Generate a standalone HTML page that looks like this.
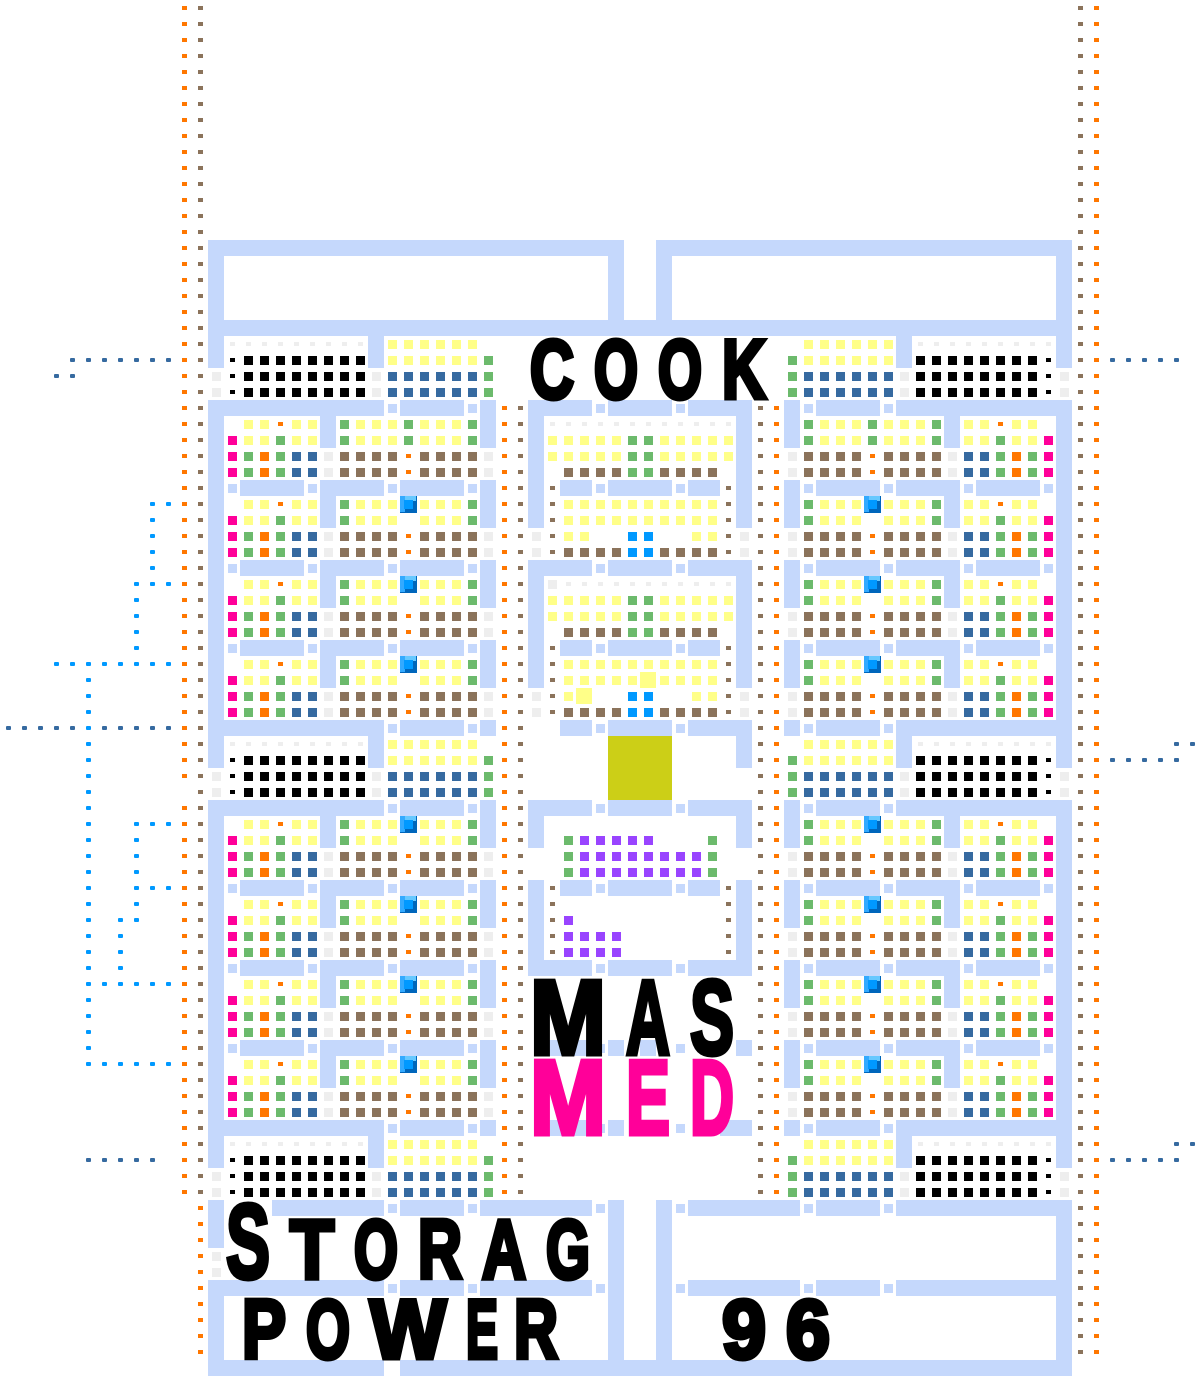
<!DOCTYPE html>
<html><head><meta charset="utf-8">
<style>
html,body{margin:0;padding:0;background:#fff;}
#s{position:absolute;left:0;top:0;display:block;}
</style></head>
<body>
<svg id="s" xmlns="http://www.w3.org/2000/svg" width="1201" height="1377" viewBox="0 0 1201 1377" shape-rendering="crispEdges">
<rect x="0" y="0" width="1201" height="1377" fill="#ffffff"/>
<g id="g"></g>
<g id="t" font-family="'Liberation Sans', sans-serif" font-weight="bold"></g>
</svg>
<script>
var NS="http://www.w3.org/2000/svg";
var G=document.getElementById('g'),T=document.getElementById('t');
function R(x,y,w,h,f,rx){var e=document.createElementNS(NS,'rect');e.setAttribute('x',x);e.setAttribute('y',y);e.setAttribute('width',w);e.setAttribute('height',h);e.setAttribute('fill',f);if(rx){e.setAttribute('rx',rx);}G.appendChild(e);}
var WC='#c5d8fc',Y='#ffff88',GR='#6cba6c',OR='#ff7700',BL='#366aa0',BR='#8b735b',MG='#ff0099',LG='#eeeeee',BK='#000000',B2='#0099ff',PU='#9944ff';
var m=false;function X(c){return m?79-c:c;}
function W(c1,r1,c2,r2){var a=X(c1),b=X(c2),lo=Math.min(a,b),hi=Math.max(a,b);R(16*lo,16*r1,16*(hi-lo+1),16*(r2-r1+1),WC);}
function I(c,r,f){R(16*X(c)+4,16*r+4,9,9,f);}
function S(c,r,f){R(16*X(c)+6,16*r+6,5,4,f);}
function D(c,r){I(c,r,WC);}
function Cube(c,r){var x=16*X(c),y=16*r;R(x,y,17,17,'#0066bb');R(x,y,16,5,'#66c8ff');R(x,y,5,16,'#33aaff');R(x+4,y+4,9,9,B2);}
function Dot(c,r,f){R(16*c+6,16*r+6,5,4,f,1.5);}
function row(c1,c2,r,f){for(var c=c1;c<=c2;c++)I(c,r,f);}

function module(r,full,cube){
 if(full){W(13,r,23,r);}else{D(14,r);W(15,r,18,r);D(19,r);W(20,r,23,r);}
 D(24,r);W(25,r,28,r);D(29,r);W(30,r,30,r+2);W(20,r,20,r+2);
 for(var k=1;k<=2;k++){var rr=r+k;
  I(15,rr,Y);I(16,rr,Y);if(k==1)S(17,rr,OR);else I(17,rr,GR);I(18,rr,Y);I(19,rr,Y);
  I(21,rr,GR);row(22,24,rr,Y);
  if(k==1){if(cube)Cube(25,rr);else I(25,rr,GR);}else{if(!cube)I(25,rr,GR);}
  row(26,28,rr,Y);I(29,rr,GR);
  if(k==2)I(14,rr,MG);
 }
 for(var k=3;k<=4;k++){var rr=r+k;
  I(14,rr,MG);I(15,rr,GR);I(16,rr,OR);I(17,rr,GR);I(18,rr,BL);I(19,rr,BL);I(20,rr,LG);
  row(21,24,rr,BR);S(25,rr,OR);row(26,29,rr,BR);I(30,rr,LG);
 }
}
function storage(s,topwall){
 if(topwall){W(13,s-1,23,s-1);D(24,s-1);W(25,s-1,28,s-1);D(29,s-1);W(30,s-1,30,s-1);}
 W(13,s-1,13,s+1);W(23,s-1,23,s+1);I(13,s+2,LG);I(13,s+3,LG);I(23,s+2,LG);I(23,s+3,LG);
 for(var c=14;c<=22;c++)S(c,s,LG);row(24,29,s,Y);
 S(14,s+1,BK);row(15,22,s+1,BK);row(24,29,s+1,Y);I(30,s+1,GR);
 for(var k=2;k<=3;k++){S(14,s+k,BK);row(15,22,s+k,BK);row(24,29,s+k,BL);I(30,s+k,GR);}
}
function side(){
 W(13,25,13,47);W(13,50,13,72);
 storage(21,false);
 module(25,true,false);module(30,false,true);module(35,false,true);module(40,false,true);
 storage(46,true);
 module(50,true,true);module(55,false,true);module(60,false,true);module(65,false,true);
 storage(71,true);
}
W(13,15,38,15);W(13,15,13,22);W(38,15,38,20);W(41,15,66,15);W(41,15,41,20);W(66,15,66,22);W(13,20,66,20);
m=false;side();m=true;side();m=false;

for(var r=0;r<=74;r++){if(r!=49)S(11,r,OR);S(12,r,BR);}
for(var r=75;r<=84;r++)S(12,r,OR);
for(var r=0;r<=84;r++){S(67,r,BR);S(68,r,OR);}
for(var r=25;r<=74;r++){S(31,r,OR);S(32,r,BR);S(47,r,BR);S(48,r,OR);}

function cblock(r,b){
 W(33,r,36,r);D(37,r);W(38,r,41,r);D(42,r);W(43,r,46,r);W(33,r,33,r+7);W(46,r,46,r+7);
 if(b){I(34,r+1,LG);for(var c=35;c<=45;c++)S(c,r+1,LG);}else{for(var c=34;c<=45;c++)S(c,r+1,LG);}
 for(var k=2;k<=3;k++){row(34,38,r+k,Y);row(39,40,r+k,GR);row(41,45,r+k,Y);}
 row(35,38,r+4,BR);row(39,40,r+4,GR);row(41,44,r+4,BR);
 W(35,r+5,36,r+5);D(37,r+5);W(38,r+5,41,r+5);D(42,r+5);W(43,r+5,44,r+5);
 for(var k=5;k<=9;k++){S(34,r+k,BR);S(45,r+k,BR);}
 row(35,44,r+6,Y);row(35,44,r+7,Y);
 I(33,r+8,LG);I(33,r+9,LG);I(46,r+8,LG);I(46,r+9,LG);
 I(35,r+8,Y);if(!b)I(36,r+8,Y);I(39,r+8,B2);I(40,r+8,B2);I(43,r+8,Y);I(44,r+8,Y);
 row(35,38,r+9,BR);I(39,r+9,B2);I(40,r+9,B2);row(41,44,r+9,BR);
}
cblock(25,false);cblock(35,true);
R(640,672,16,16,Y);R(576,688,16,16,Y);
W(35,45,36,45);D(37,45);W(38,45,41,45);D(42,45);W(43,45,46,45);W(46,45,46,47);
R(608,736,64,64,'#cccf17');
W(33,50,36,50);D(37,50);W(38,50,41,50);D(42,50);W(43,50,46,50);W(33,50,33,52);W(46,50,46,52);
I(35,52,GR);row(36,40,52,PU);I(44,52,GR);
for(var r=53;r<=54;r++){I(35,r,GR);row(36,43,r,PU);I(44,r,GR);}
W(33,55,33,59);W(35,55,36,55);D(37,55);W(38,55,41,55);D(42,55);W(43,55,44,55);W(46,55,46,59);
for(var r=55;r<=59;r++){S(34,r,BR);S(45,r,BR);}
I(35,57,PU);row(35,38,58,PU);row(35,38,59,PU);
W(33,60,36,60);D(37,60);W(38,60,41,60);D(42,60);W(43,60,46,60);
W(34,65,36,65);D(37,65);W(38,65,38,65);W(40,65,40,65);D(42,65);W(46,65,46,65);
W(34,70,36,70);D(37,70);W(38,70,38,70);D(42,70);W(45,70,46,70);

W(13,75,13,77);I(13,78,LG);I(13,79,LG);W(13,80,13,85);
W(17,75,23,75);D(24,75);W(25,75,28,75);D(29,75);W(30,75,36,75);D(37,75);W(38,75,38,85);
W(13,80,23,80);D(24,80);W(25,80,28,80);D(29,80);W(30,80,36,80);D(37,80);
W(41,75,41,85);
[75,80].forEach(function(r){D(42,r);W(43,r,49,r);D(50,r);W(51,r,54,r);D(55,r);W(56,r,66,r);});
W(66,75,66,85);
W(13,85,23,85);W(25,85,66,85);

var LB=B2,DB=BL;
function hl(c1,c2,r,f){for(var c=c1;c<=c2;c++)Dot(c,r,f);}
function vl(c,r1,r2,f){for(var r=r1;r<=r2;r++)Dot(c,r,f);}
hl(4,10,22,DB);hl(3,4,23,DB);
hl(9,10,31,LB);vl(9,32,35,LB);hl(8,10,36,LB);vl(8,37,40,LB);
hl(3,10,41,LB);vl(5,42,66,LB);
hl(0,10,45,DB);Dot(5,45,LB);
hl(8,10,51,LB);vl(8,52,57,LB);hl(8,10,55,LB);Dot(7,57,LB);vl(7,58,60,LB);
hl(5,10,61,LB);hl(5,10,66,LB);
hl(5,9,72,DB);
hl(69,73,22,DB);hl(73,74,46,DB);hl(69,73,47,DB);hl(73,74,71,DB);hl(69,73,72,DB);

function L(ch,x,y,w,h,f){var e=document.createElementNS(NS,'text');
 var ix=x+2,iw=w-4,ih=h-4,fs=ih/0.716;
 e.setAttribute('x',ix);e.setAttribute('y',y+h-2);e.setAttribute('font-size',fs.toFixed(1));
 e.setAttribute('textLength',iw);e.setAttribute('lengthAdjust','spacingAndGlyphs');e.setAttribute('fill',f);
 e.setAttribute('stroke',f);e.setAttribute('stroke-width','5');e.setAttribute('stroke-linejoin','miter');
 e.textContent=ch;T.appendChild(e);}
L('C',528,336,48,64,BK);L('O',592,336,48,64,BK);L('O',656,336,48,64,BK);L('K',720,336,48,64,BK);
L('M',528,976,80,80,BK);L('A',624,976,48,80,BK);L('S',688,976,48,80,BK);
L('M',528,1056,80,80,MG);L('E',624,1056,48,80,MG);L('D',688,1056,48,80,MG);
L('S',224,1200,48,80,BK);L('T',288,1216,48,64,BK);L('O',352,1216,48,64,BK);L('R',416,1216,48,64,BK);L('A',480,1216,48,64,BK);L('G',544,1216,48,64,BK);
L('P',240,1296,48,64,BK);L('O',304,1296,48,64,BK);L('W',368,1296,80,64,BK);L('E',464,1296,36,64,BK);L('R',512,1296,48,64,BK);
L('9',720,1296,48,64,BK);L('6',784,1296,48,64,BK);
</script>
</body></html>
